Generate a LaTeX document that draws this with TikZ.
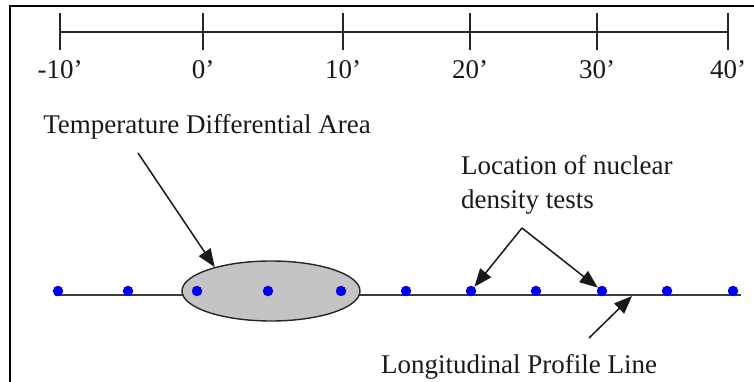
\documentclass[tikz,border=0pt]{standalone}
\usepackage{fontspec}
\setmainfont{Liberation Serif}
\usetikzlibrary{arrows.meta, shapes.geometric, positioning}
\definecolor{ptBlue}{RGB}{0,0,230}
\definecolor{ptGrey}{RGB}{196,196,196}
\definecolor{ptLine}{RGB}{60,60,60}
\tikzset{
  frameline/.style = {line width=1.6pt, black},
  rulerline/.style = {line width=1.6pt, black!85},
  profline/.style  = {line width=2pt, ptLine},
  testdot/.style   = {circle, fill=ptBlue, inner sep=0pt, minimum size=10.5pt},
  diffarea/.style  = {ellipse, draw=black!85, line width=1.4pt, fill=ptGrey,
                      minimum width=178pt, minimum height=60pt, inner sep=0pt},
  callout/.style   = {-{Triangle[length=18pt, width=14pt]}, line width=1.5pt, black!90},
  lbl/.style       = {font=\fontsize{27}{34}\selectfont, inner sep=0pt, text=black!90},
}

\begin{document}
\begin{tikzpicture}[x=1pt, y=-1pt]
  \useasboundingbox (0,0) rectangle (754,382);

  % clipped frame
  \draw[frameline] (10,382) -- (10,6) -- (754,6);

  % scale bar
  \draw[rulerline] (60,32) -- (728,32);
  \foreach \x/\t [count=\i] in {60/-10, 203/0, 343/10, 470/20, 597/30, 728/40} {
    \draw[rulerline] (\x,13) -- (\x,50);
    \node[lbl] (tk\i) at (\x,70) {\t’};
  }

  % profile line, test area and test points
  \coordinate (plStart) at (55,295);
  \coordinate (plEnd)   at (741,295);
  \draw[profline] (plStart) -- (plEnd);
  \node[diffarea] (diff) at (271,291) {};
  \foreach \x [count=\i] in {58,128,197,268,341,406,471,536,602,667,733}
    \node[testdot] (d\i) at (\x,291) {};

  % labels
  \node[lbl] (tdLbl) at (207,127) {Temperature Differential Area};
  \node[lbl, align=left, anchor=west] (ndLbl) at (461,185)
    {Location of nuclear\\density tests};
  \node[lbl] (lpLbl) at (519,367) {Longitudinal Profile Line};

  \coordinate (tdTail) at (138,153);
  \coordinate (ndApex) at (522,228);
  \coordinate (lpTail) at (589,338);
  \coordinate (lpTip)  at (632,296);

  \draw[callout] (tdTail) -- (diff.157);
  \draw[callout] (ndApex) -- (d7);
  \draw[callout] (ndApex) -- (d9);
  \draw[callout] (lpTail) -- (lpTip);
\end{tikzpicture}
\end{document}
